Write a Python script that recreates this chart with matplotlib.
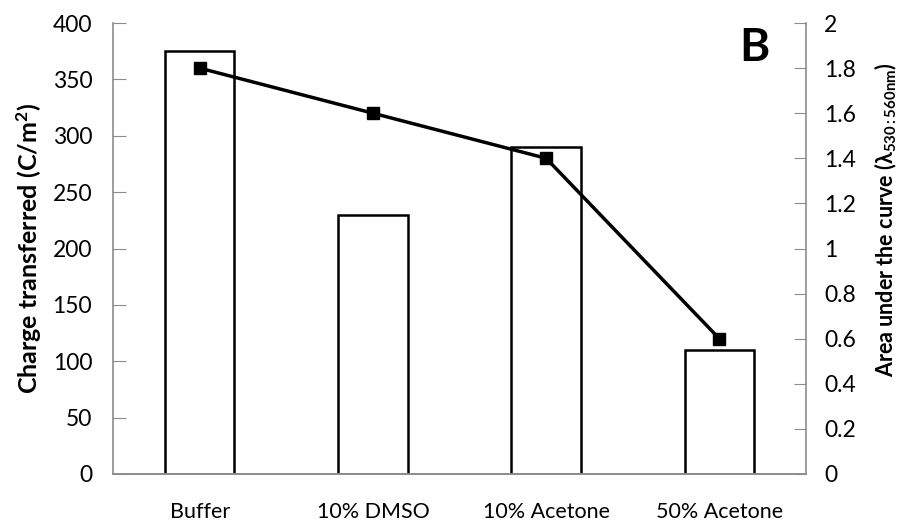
import matplotlib
matplotlib.use("Agg")
import matplotlib.pyplot as plt
import numpy as np

categories = ["Buffer", "10% DMSO", "10% Acetone", "50% Acetone"]
charge = [375, 230, 290, 110]
area = [1.8, 1.6, 1.4, 0.6]
left_ticks = [0, 50, 100, 150, 200, 250, 300, 350, 400]
right_ticks = [0, 0.2, 0.4, 0.6, 0.8, 1, 1.2, 1.4, 1.6, 1.8, 2]

plt.rcParams["font.family"] = ["Lato", "DejaVu Sans"]
plt.rcParams["mathtext.fontset"] = "custom"
plt.rcParams["mathtext.rm"] = "Lato"
plt.rcParams["mathtext.bf"] = "Lato:bold"
plt.rcParams["mathtext.it"] = "Lato:italic"

fig = plt.figure(figsize=(9.05, 5.25), dpi=100)
ax = fig.add_axes([113 / 905, 1 - 474 / 525, (806 - 113) / 905, (474 - 23) / 525])
x = np.arange(len(categories))

ax.bar(x, charge, width=0.4, facecolor="white", edgecolor="black", linewidth=1.8, zorder=2)
ax.set_xlim(-0.5, len(categories) - 0.5)
ax.set_ylim(0, 400)
ax.set_yticks(left_ticks)
ax.set_yticklabels([str(t) for t in left_ticks])
ax.set_xticks(x)
ax.set_xticklabels(categories)
ax.tick_params(axis="y", direction="in", length=9, color="#8c8c8c", labelsize=16.5, pad=15)
ax.tick_params(axis="x", length=0, labelsize=15.5, pad=20)
ax.set_ylabel(r"Charge transferred (C/m$\mathbf{^{2}}$)", fontsize=18, fontweight="bold",
              labelpad=6)

ax2 = ax.twinx()
ax2.plot(x, area, color="black", linewidth=2.5, marker="s", markersize=8, zorder=3)
ax2.set_ylim(0, 2)
ax2.set_yticks(right_ticks)
ax2.set_yticklabels([f"{t:g}" for t in right_ticks])
ax2.tick_params(axis="y", direction="in", length=9, color="#8c8c8c", labelsize=16.5, pad=13)
ax2.set_ylabel(r"Area under the curve ($\mathbf{\lambda_{530{:}560nm}}$)", fontsize=15.5,
               fontweight="bold", labelpad=12)
ax2.yaxis.label.set_y(0.565)

for a in (ax, ax2):
    a.spines["top"].set_visible(False)
    for s in ("left", "right", "bottom"):
        a.spines[s].set_color("#8c8c8c")
        a.spines[s].set_linewidth(1.2)
ax.spines["right"].set_visible(False)
ax2.spines["left"].set_visible(False)

ax.text(0.925, 0.945, "B", transform=ax.transAxes, fontsize=33, fontweight="bold",
        ha="center", va="center")

fig.savefig("out.png", dpi=100)
